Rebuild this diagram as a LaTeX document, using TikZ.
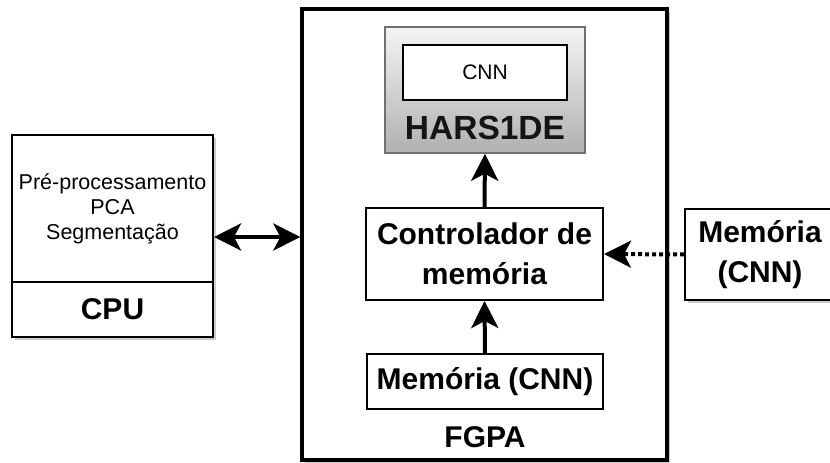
\documentclass[tikz,border=0pt]{standalone}
\usepackage{fontspec}
\setmainfont{Liberation Sans}
\usetikzlibrary{arrows.meta,shadows}
\begin{document}
\begin{tikzpicture}[x=1pt,y=-1pt,
  box/.style={draw=black, line width=2pt, fill=white, inner sep=0pt, align=center},
  soft/.style={drop shadow={shadow xshift=2.5pt, shadow yshift=-3pt, opacity=0.2, fill=black}},
  boldtxt/.style={font=\fontsize{30}{40}\selectfont\bfseries},
  plaintxt/.style={font=\fontsize{21.5}{25}\selectfont},
  link/.style={line width=4pt, -{Stealth[length=27pt, width=27pt, inset=7pt]}},
  twoway/.style={line width=4pt, {Stealth[length=27pt, width=27pt, inset=7pt]}-{Stealth[length=27pt, width=27pt, inset=7pt]}},
]
\useasboundingbox (0,0) rectangle (830,463);

% FPGA enclosure
\node[box, soft, line width=3.3pt, minimum width=365pt, minimum height=451pt] (fpga) at (484.5,234.5) {};
\node[boldtxt] (fpgalabel) at (485,437) {FGPA};

% accelerator block with the CNN core
\node[draw={rgb,255:red,112;green,112;blue,112}, line width=1.5pt, inner sep=0pt,
      top color={rgb,255:red,244;green,244;blue,244}, bottom color={rgb,255:red,176;green,176;blue,176},
      minimum width=200pt, minimum height=126pt] (hars) at (485,90) {};
\node[box, line width=1.8pt, minimum width=164pt, minimum height=55pt, font=\fontsize{21}{25}\selectfont] (cnn) at (485,72.5) {CNN};
\node[font=\fontsize{33.5}{40}\selectfont\bfseries, text={rgb,255:red,20;green,20;blue,20}] (harsname) at (485,128) {HARS1DE};

% memory controller and local memory
\node[box, minimum width=237pt, minimum height=92pt, boldtxt] (ctrl) at (484.5,254) {Controlador de\\memória};
\node[box, minimum width=236pt, minimum height=55pt, boldtxt] (memin) at (485,381.5) {Memória (CNN)};

% host CPU
\node[box, soft, minimum width=201pt, minimum height=147pt, plaintxt] (cputop) at (112.5,208.5) {Pré-processamento\\PCA\\Segmentação};
\node[box, soft, minimum width=201pt, minimum height=55pt, boldtxt] (cpubot) at (112.5,309.5) {CPU};

% external memory
\node[box, soft, minimum width=150pt, minimum height=91pt, boldtxt] (memout) at (760,254.5) {Memória\\(CNN)};

% connectors
\coordinate (cpuport) at ([yshift=-2.5pt]fpga.west);
\draw[twoway] (cputop.east |- cpuport) -- (cpuport);
\draw[link] (ctrl.north) -- (hars.south);
\draw[link] (memin.north) -- (ctrl.south);
\draw[link, dash pattern=on 4pt off 3pt] (memout.west) -- (ctrl.east);
\end{tikzpicture}
\end{document}
